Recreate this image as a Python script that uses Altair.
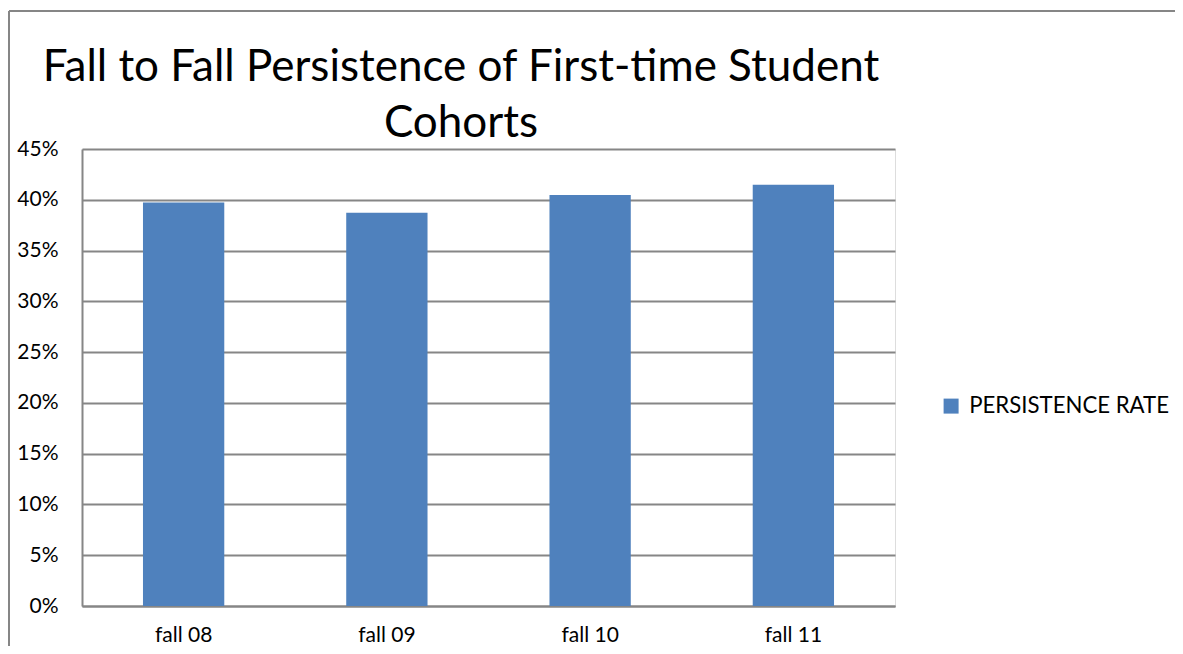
import altair as alt
import pandas as pd

cohorts = ["fall 08", "fall 09", "fall 10", "fall 11"]
rates = [0.3973, 0.3872, 0.4046, 0.4148]
series_name = "PERSISTENCE RATE"
title_lines = ["Fall to Fall Persistence of First-time Student", "Cohorts"]

df = pd.DataFrame({"cohort": cohorts, "rate": rates, "series": [series_name] * len(cohorts)})

FONT = "Lato"
GRAY = "#868686"

bars = alt.Chart(df).mark_bar(color="#4F81BD").encode(
    x=alt.X("cohort:N", sort=cohorts, title=None,
            scale=alt.Scale(paddingInner=0.6, paddingOuter=0.3),
            axis=alt.Axis(labelAngle=0, ticks=False, labelPadding=18, domainColor=GRAY,
                          domainWidth=2, labelFontSize=21, labelColor="black", labelFont=FONT)),
    y=alt.Y("rate:Q", title=None,
            scale=alt.Scale(domain=[0, 0.45], nice=False),
            axis=alt.Axis(format=".0%", values=[i * 0.05 for i in range(10)], ticks=False,
                          labelPadding=24, domainColor=GRAY, domainWidth=2,
                          grid=True, gridColor=GRAY, gridWidth=1.8,
                          labelFontSize=21, labelColor="black", labelFont=FONT)),
    color=alt.Color("series:N", scale=alt.Scale(range=["#4F81BD"]),
                    legend=alt.Legend(title=None, orient="none", legendX=858, legendY=246,
                                      symbolType="square", symbolSize=225, symbolStrokeWidth=0,
                                      labelFontSize=22.2, labelFont=FONT, labelColor="black",
                                      labelLimit=400, labelOffset=7)),
)

one = alt.Data(values=[{}])

title1 = alt.Chart(one).mark_text(
    text=title_lines[0], font=FONT, fontSize=44, color="black", align="center", baseline="alphabetic"
).encode(x=alt.value(379), y=alt.value(-68))
title2 = alt.Chart(one).mark_text(
    text=title_lines[1], font=FONT, fontSize=44, color="black", align="center", baseline="alphabetic"
).encode(x=alt.value(379), y=alt.value(-12))

frame = alt.Chart(one).mark_rule(color=GRAY, strokeWidth=2).encode(
    x=alt.value(-73), y=alt.value(-138), y2=alt.value(520)
)
frame_top = alt.Chart(one).mark_rule(color=GRAY, strokeWidth=2).encode(
    x=alt.value(-73), x2=alt.value(1120), y=alt.value(-138)
)

chart = alt.layer(frame, frame_top, title1, title2, bars).properties(
    width=813,
    height=457,
    autosize=alt.AutoSizeParams(type="none"),
    padding={"left": 74, "top": 141, "right": 280, "bottom": 40},
).configure_view(stroke=None).configure(background="white")

chart.save("out.html", embed_options={"renderer": "svg", "actions": False})
